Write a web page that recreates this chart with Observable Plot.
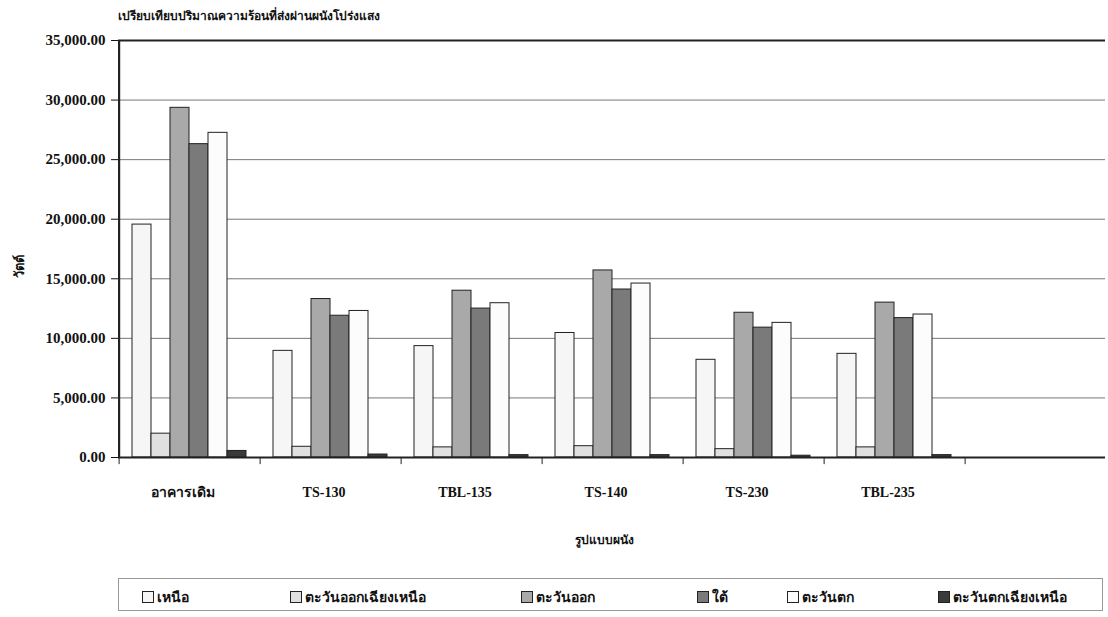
<!DOCTYPE html>
<html>
<head>
<meta charset="utf-8">
<script src="https://cdn.jsdelivr.net/npm/d3@7"></script>
<script src="https://cdn.jsdelivr.net/npm/@observablehq/plot@0.6"></script>
<style>
  html, body { margin: 0; padding: 0; background: #fff; }
  body { width: 1108px; height: 617px; position: relative; overflow: hidden;
         font-family: "Liberation Serif", "Noto Sans", serif; font-weight: bold; color: #111; }
  #title { position: absolute; left: 118px; top: 6px; font-size: 12px; }
  #chart { position: absolute; left: 0; top: 30px; }
  #legend { position: absolute; left: 118px; top: 578px; width: 985px; height: 33px;
            border: 1px solid #999; box-sizing: border-box; }
  .item { position: absolute; top: 7px; font-size: 14px; display: flex; align-items: center; white-space: nowrap; }
  .sw { width: 12px; height: 12px; border: 1px solid #222; margin-right: 3px; box-sizing: border-box; }
</style>
</head>
<body>
<div id="title"></div>
<div id="chart"></div>
<div id="legend"></div>
<script>
const titleText = "เปรียบเทียบปริมาณความร้อนที่ส่งผ่านผนังโปร่งแสง";
const yLabel = "วัตต์";
const xLabel = "รูปแบบผนัง";
const categories = ["อาคารเดิม", "TS-130", "TBL-135", "TS-140", "TS-230", "TBL-235"];
const emptySlot = " ";
const series = ["เหนือ", "ตะวันออกเฉียงเหนือ", "ตะวันออก", "ใต้", "ตะวันตก", "ตะวันตกเฉียงเหนือ"];
const north     = [19550,  8950,  9350, 10450,  8200,  8700];
const northeast = [ 2000,   900,   850,   950,   700,   850];
const east      = [29350, 13300, 14000, 15700, 12150, 13000];
const south     = [26300, 11900, 12500, 14100, 10900, 11700];
const west      = [27250, 12300, 12950, 14600, 11300, 12000];
const northwest = [  550,   250,   200,   200,   150,   200];
const seriesColors = ["#f6f6f6", "#e0e0e0", "#a9a9a9", "#7a7a7a", "#fcfcfc", "#3a3a3a"];
const yTicks = [0, 5000, 10000, 15000, 20000, 25000, 30000, 35000];

const valuesBySeries = [north, northeast, east, south, west, northwest];
const data = [];
categories.forEach((c, i) => series.forEach((s, j) => data.push({cat: c, ser: s, value: valuesBySeries[j][i]})));

const W = 1108, H = 540, mL = 117, mR = 3, mT = 10, mB = 113;
const fxDomain = [...categories, emptySlot];
const padOuter = 0.7;
const facetW = (W - mL - mR) / fxDomain.length;
const step = facetW / (series.length + 2 * padOuter);
const edgeDx = -(padOuter * step + step / 2);
const fmt = d3.format(",.2f");
const font = "Liberation Serif, Noto Sans, serif";

const chart = Plot.plot({
  width: W, height: H,
  marginLeft: mL, marginRight: mR, marginTop: mT, marginBottom: mB,
  style: {fontFamily: font, fontSize: "15px", fontWeight: "bold", color: "#111", background: "#fff"},
  fx: {domain: fxDomain, padding: 0, label: null},
  x: {domain: series, paddingInner: 0, paddingOuter: padOuter, axis: null},
  y: {domain: [0, 35000], axis: null},
  color: {domain: series, range: seriesColors},
  marks: [
    Plot.ruleY(yTicks.slice(1, -1), {stroke: "#777", strokeWidth: 1, facetAnchor: null}),
    Plot.barY(data, {fx: "cat", x: "ser", y: "value", fill: "ser", stroke: "#222", strokeWidth: 1}),
    Plot.ruleY([35000], {stroke: "#222", strokeWidth: 2.2, facetAnchor: null}),
    Plot.ruleY([0], {stroke: "#222", strokeWidth: 2}),
    Plot.ruleX(fxDomain.map(c => ({cat: c, ser: series[0]})), {fx: "cat", x: "ser", y1: 0, y2: -600, dx: edgeDx, stroke: "#222", strokeWidth: 1}),
    Plot.axisY({ticks: yTicks, tickFormat: fmt, tickSize: 7, tickPadding: 6, label: null, facetAnchor: "left", fontSize: 15}),
    Plot.ruleX([0], {x: () => series[0], y1: 0, y2: 35000, dx: edgeDx, stroke: "#222", strokeWidth: 2.2, facetAnchor: "left"}),
    Plot.axisFx({anchor: "bottom", tickSize: 0, tickPadding: 30, label: null, fontSize: 14, dx: -6, tickFormat: d => d})
  ]
});
document.getElementById("chart").appendChild(chart);

const svg = d3.select(chart);
svg.append("text").text(yLabel)
  .attr("transform", `translate(24, ${266 - 30}) rotate(-90)`)
  .attr("text-anchor", "middle").attr("font-size", 13).attr("font-weight", "bold").attr("fill", "#111");
svg.append("text").text(xLabel)
  .attr("x", 604).attr("y", 540 - 30 + 4).attr("text-anchor", "middle")
  .attr("font-size", 12).attr("font-weight", "bold").attr("fill", "#111");

document.getElementById("title").textContent = titleText;

const legendX = [142, 290, 521, 697, 787, 938];
const legend = document.getElementById("legend");
series.forEach((s, i) => {
  const it = document.createElement("div");
  it.className = "item";
  it.style.left = (legendX[i] - 118 - 1) + "px";
  const sw = document.createElement("span");
  sw.className = "sw";
  sw.style.background = seriesColors[i];
  const lb = document.createElement("span");
  lb.textContent = s;
  it.appendChild(sw); it.appendChild(lb);
  legend.appendChild(it);
});
</script>
</body>
</html>
